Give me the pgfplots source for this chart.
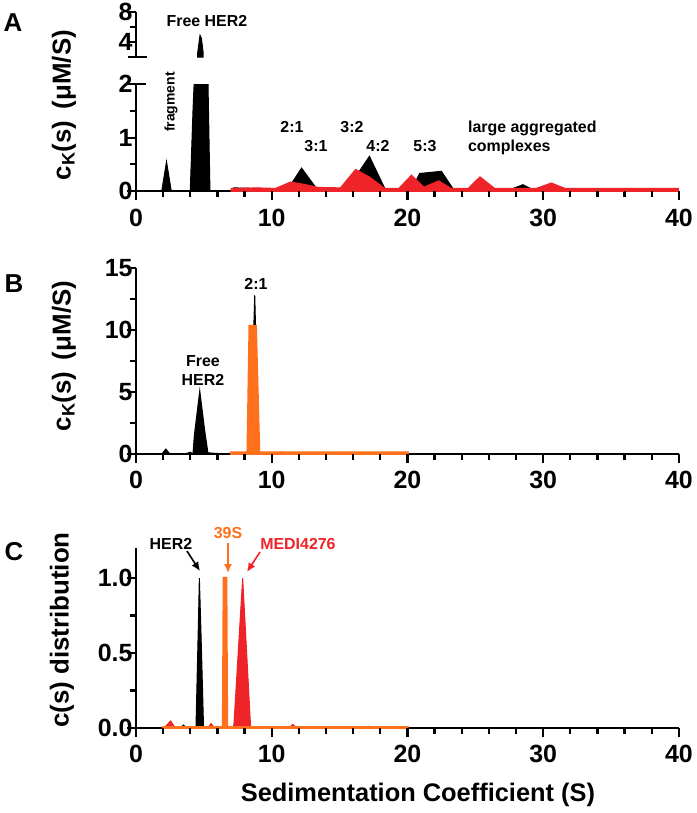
\documentclass[border=0pt]{standalone}
\usepackage{pgfplots}
\pgfplotsset{compat=1.18}
\usepackage{fontspec}
\setmainfont{Liberation Sans}
\usetikzlibrary{arrows.meta}
\definecolor{myred}{RGB}{238,36,40}
\definecolor{myorange}{RGB}{255,112,28}
\newcommand{\tfont}{\fontsize{25}{28}\selectfont\bfseries}
\newcommand{\afont}{\fontsize{16}{19}\selectfont\bfseries}
\newcommand{\lfont}{\fontsize{26}{30}\selectfont\bfseries}
\pgfplotsset{
  panel/.style={
    scale only axis, width=543bp, anchor=south west,
    xmin=0, xmax=40,
    axis lines=left,
    axis line style={-, line width=2.4bp, black},
    tick align=outside,
    major tick length=9bp, minor tick length=6bp,
    every tick/.append style={black, line width=2.2bp},
    xtick={0,10,20,30,40}, minor x tick num=4,
    ticklabel style={font=\tfont},
    xticklabel style={yshift=-5bp},
    yticklabel style={xshift=9bp},
    /pgf/number format/assume math mode=true,
  },
}
\pgfplotstableread{
s v
0 0
1.9 0
2.25 0.55
2.6 0
4.0 0
4.2 1.5
4.3 2.1
4.55 2.6
4.65 4.0
4.72 4.9
4.82 4.5
4.95 2.6
5.3 2.1
5.45 0
7.0 0
7.2 0.06
9 0.05
10.5 0.03
11.3 0.08
12.2 0.43
13.3 0.05
15.5 0.05
16.4 0.35
17.2 0.65
18.35 0.04
19.5 0.03
20.4 0.08
20.9 0.33
22.5 0.37
23.4 0.03
24.5 0.02
25.3 0.1
26.2 0.02
27.5 0.02
28.5 0.12
29.3 0.02
40 0.02
}\Ablack
\pgfplotstableread{
s v
7.1 0.03
9 0.04
10.3 0.03
11.4 0.15
12.3 0.11
13.4 0.05
15.1 0.04
16.2 0.38
17.2 0.24
18.3 0.03
19.4 0.03
20.3 0.27
21.2 0.05
22.3 0.17
23.2 0.03
24.5 0.03
25.35 0.24
26.4 0.03
29.5 0.03
30.6 0.13
31.6 0.03
40 0.03
}\Ared
\pgfplotstableread{
s v
0 0
1.9 0
2.2 0.4
2.5 0
3.6 0
4.0 0.15
4.2 0
4.3 1.5
4.7 5.1
5.05 2
5.3 0.1
6 0.05
7 0
8.4 0
8.75 12.8
9.05 0
10.9 0.15
11.2 0
20 0
}\Bblack
\pgfplotstableread{
s v
7.05 0.1
8.25 0.1
8.4 10.3
8.8 10.3
9.05 0.1
20 0.1
}\Borange
\pgfplotstableread{
s v
2 0
3.3 0
3.5 0.02
3.7 0
4.42 0
4.6 0.7
4.67 1.0
4.8 0.6
4.98 0
7.1 0
7.25 0.02
7.4 0
16.9 0
17.1 0.012
17.3 0
}\Cblack
\pgfplotstableread{
s v
2.07 0
2.55 0.047
2.9 0
5.3 0
5.53 0.03
5.8 0
7.2 0
7.86 1.0
8.45 0
11.3 0
11.55 0.025
11.8 0
20 0
}\Cred
\pgfplotstableread{
s v
2.0 0.005
6.42 0.005
6.48 1.0
6.64 1.0
6.7 0.005
20 0.005
}\Corange
\begin{document}
\begin{tikzpicture}
\path (0,0) rectangle (693bp,-813bp);
% Panel A lower
\begin{axis}[panel, at={(136bp,-191bp)}, height=107bp,
  ymin=0, ymax=2, ytick={0,1,2}, minor y tick num=1]
\addplot[draw=black, fill=black, line width=1bp] table[x=s,y=v] {\Ablack} \closedcycle;
\addplot[draw=myred, fill=myred, line width=3.2bp] table[x=s,y=v] {\Ared} \closedcycle;
\coordinate (lowtop) at (axis cs:0,2);
\end{axis}
% Panel A upper
\begin{axis}[panel, at={(136bp,-57bp)}, height=45bp,
  x axis line style={draw=none}, xtick=\empty, minor x tick num=0,
  ymin=2, ymax=8, ytick={4,8}, minor ytick={6}]
\addplot[draw=black, fill=black, line width=1bp, restrict x to domain=4.5:5.0] table[x=s,y=v] {\Ablack} \closedcycle;
\coordinate (upbot) at (axis cs:0,2);
\coordinate (uptop) at (axis cs:0,8);
\end{axis}
\draw[line width=2.4bp] (lowtop) -- ++(10bp,0);
\draw[line width=2.4bp] (upbot) -- (uptop);
\draw[line width=2.4bp] (upbot) ++(-8bp,0) -- ++(19bp,0);
% Panel B
\begin{axis}[panel, at={(136bp,-454bp)}, height=186bp,
  ymin=0, ymax=15, ytick={0,5,10,15}, minor y tick num=1]
\addplot[draw=black, fill=black, line width=1bp] table[x=s,y=v] {\Bblack} \closedcycle;
\addplot[draw=myorange, fill=myorange, line width=3bp] table[x=s,y=v] {\Borange} \closedcycle;
\end{axis}
% Panel C
\begin{axis}[panel, at={(136bp,-728bp)}, height=180bp,
  ymin=0, ymax=1.2, ytick={0,0.5,1}, minor y tick num=1,
  yticklabel style={/pgf/number format/.cd, fixed, fixed zerofill, precision=1}]
\addplot[draw=black, fill=black, line width=1bp] table[x=s,y=v] {\Cblack} \closedcycle;
\addplot[draw=myred, fill=myred, line width=1bp] table[x=s,y=v] {\Cred} \closedcycle;
\addplot[draw=myorange, fill=myorange, line width=2.5bp] table[x=s,y=v] {\Corange} \closedcycle;
\end{axis}
% axis tick marks (drawn explicitly so they show in every panel)
\foreach \yy in {191,454,728} {
  \foreach \s in {0,10,20,30,40}
    \draw[line width=2.2bp] ({136bp+13.575bp*\s},{-\yy*1bp}) -- ++(0,-9bp);
  \foreach \s in {2,4,6,8,12,14,16,18,22,24,26,28,32,34,36,38}
    \draw[line width=2.2bp] ({136bp+13.575bp*\s},{-\yy*1bp}) -- ++(0,-6bp);
}
\foreach \p/\l in {191/9,164.25/6,137.5/9,110.75/6,84/9,42/9,27/6,12/9,454/9,423/6,392/9,361/6,330/9,299/6,268/9,728/9,690.5/6,653/9,615.5/6,578/9}
  \draw[line width=2.2bp] (136bp,{-\p*1bp}) -- ++({-\l*1bp},0);
% panel letters
\node[font=\lfont] at (13bp,-22bp) {A};
\node[font=\lfont] at (14bp,-283bp) {B};
\node[font=\lfont] at (14bp,-552bp) {C};
% y labels
\node[font=\lfont, rotate=90] at (64bp,-105bp) {c\textsubscript{K}(s)\hspace{0.45em}(μM/S)};
\node[font=\lfont, rotate=90] at (64bp,-356bp) {c\textsubscript{K}(s)\hspace{0.45em}(μM/S)};
\node[font=\lfont, rotate=90] at (62bp,-630bp) {c(s) distribution};
\node[font=\fontsize{25.5}{29}\selectfont\bfseries] at (418bp,-795bp) {Sedimentation Coefficient (S)};
% Panel A annotations
\node[font=\afont] at (207bp,-21bp) {Free HER2};
\node[font=\fontsize{14}{16}\selectfont\bfseries, rotate=90] at (171bp,-102bp) {fragment};
\node[font=\afont] at (292bp,-127bp) {2:1};
\node[font=\afont] at (316bp,-146bp) {3:1};
\node[font=\afont] at (352bp,-127bp) {3:2};
\node[font=\afont] at (378bp,-146bp) {4:2};
\node[font=\afont] at (425bp,-146bp) {5:3};
\node[font=\afont, anchor=base west, inner sep=0] at (468bp,-132bp) {large aggregated};
\node[font=\afont, anchor=base west, inner sep=0] at (468bp,-151bp) {complexes};
% Panel B annotations
\node[font=\afont] at (256bp,-284bp) {2:1};
\node[font=\afont, align=center] at (203bp,-370bp) {Free\\HER2};
% Panel C annotations
\node[font=\afont] at (171bp,-544bp) {HER2};
\node[font=\afont, text=myorange] at (228bp,-533bp) {39S};
\node[font=\afont, text=myred] at (298bp,-544bp) {MEDI4276};
\draw[-{Latex[length=9bp,width=8bp]}, line width=1.6bp] (187bp,-551bp) -- (200bp,-571bp);
\draw[-{Latex[length=9bp,width=8bp]}, line width=1.6bp, myorange] (228bp,-543bp) -- (228bp,-573bp);
\draw[-{Latex[length=9bp,width=8bp]}, line width=1.6bp, myred] (260bp,-552bp) -- (247bp,-572bp);
\end{tikzpicture}
\end{document}
